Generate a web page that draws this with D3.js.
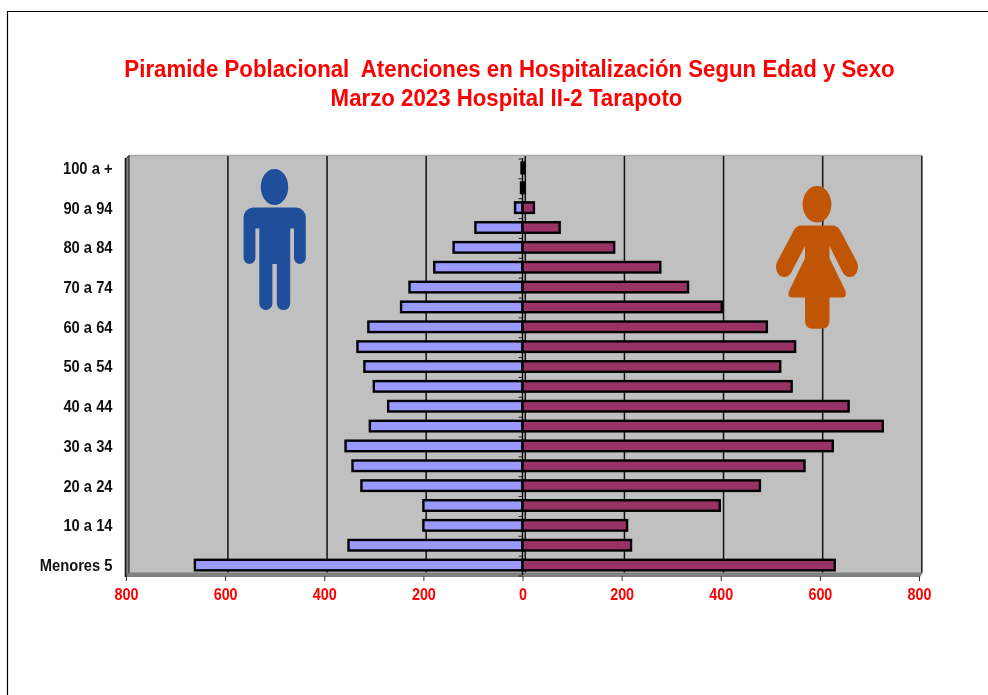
<!DOCTYPE html>
<html><head><meta charset="utf-8">
<script src="https://cdn.jsdelivr.net/npm/d3@7"></script>
<style>html,body{margin:0;padding:0;background:#fff}svg{display:block;filter:blur(0.35px)}</style>
</head><body><svg id="c" width="988" height="695"></svg>
<script>
const categories = ["Menores 5","5 a 9","10 a 14","15 a 19","20 a 24","25 a 29","30 a 34","35 a 39","40 a 44","45 a 49","50 a 54","55 a 59","60 a 64","65 a 69","70 a 74","75 a 79","80 a 84","85 a 89","90 a 94","95 a 99","100 a +"];
const hombres = [661,351,200,200,325,343,357,308,271,300,319,333,311,245,228,178,139,95,15,3,2];
const mujeres = [630,219,211,398,479,569,626,727,658,543,520,550,493,402,334,278,185,75,23,4,3];
const xTicks = [-800,-600,-400,-200,0,200,400,600,800];
const titleLines = ["Piramide Poblacional  Atenciones en Hospitalización Segun Edad y Sexo","Marzo 2023 Hospital II-2 Tarapoto"];

const svg = d3.select("#c");
const font = "'Liberation Sans',Arial,sans-serif";
const x = d3.scaleLinear().domain([-800,800]).range([126,919]);
const y = d3.scaleBand().domain(categories).range([575,158]).paddingInner(0.47).paddingOuter(0.235);
const depth = 2.8;

// slide frame
svg.append("path").attr("d","M7.5,695V11.5H988").attr("fill","none").attr("stroke","#000").attr("stroke-width",1.2);

// title
svg.append("g").selectAll("text").data(titleLines).join("text")
  .attr("transform",(d,i)=>`translate(${i?506.5:509.5},${i?106:76.5}) scale(0.908,1)`)
  .attr("text-anchor","middle").attr("fill","#ff0000")
  .attr("font-family",font).attr("font-weight","bold").attr("font-size",24.5)
  .style("white-space","pre").text(d=>d);

// 3D box: back wall, left wall, floor
svg.append("rect").attr("x",129).attr("y",156).attr("width",793.5).attr("height",417).attr("fill","#c0c0c0");
svg.append("path").attr("d","M129,155.5H922.5").attr("stroke","#a8a8a8").attr("stroke-width",1.5);
svg.append("path").attr("d","M125.5,159L129,155.5V573L125.5,577Z").attr("fill","#808080").attr("stroke","#111").attr("stroke-width",1);
svg.append("path").attr("d","M125.5,577L129,572.5H923L920,577Z").attr("fill","#808080");

// gridlines on back wall
svg.append("g").selectAll("line").data(xTicks.slice(1)).join("line")
  .attr("x1",d=>x(d)+depth).attr("x2",d=>x(d)+depth).attr("y1",156).attr("y2",572.5)
  .attr("stroke",d=>d===800?"#222":"#111").attr("stroke-width",1.5);

// bottom axis
const ax = d3.axisBottom(x).tickValues(xTicks).tickFormat(d=>Math.abs(d)).tickSize(5).tickPadding(8);
const gx = svg.append("g").attr("transform","translate(0,576)").call(ax);
gx.select(".domain").remove();
gx.selectAll("line").attr("stroke","#333").attr("stroke-width",1);
gx.selectAll("text").attr("fill","#ff0000").attr("font-family",font).attr("font-weight","bold").attr("font-size",15.8)
  .attr("transform","scale(0.91,1)");

// icons (decorative pictograms)
const man = svg.append("g").attr("fill","#1f4e9b");
man.append("ellipse").attr("cx",274.5).attr("cy",187).attr("rx",13.7).attr("ry",18);
man.append("path").attr("d","M253,207.5H296A10,10 0 0 1 305.8,218V258A5.9,6 0 0 1 294,258V228.5H290.2V303.4A6.7,6.7 0 0 1 276.8,303.4V264H272.4V303.4A6.55,6.55 0 0 1 259.3,303.4V228.5H255.4V258A5.9,6 0 0 1 243.6,258V218A10,10 0 0 1 253,207.5Z");
const woman = svg.append("g").attr("fill","#c05505");
woman.append("ellipse").attr("cx",817).attr("cy",204.3).attr("rx",14.4).attr("ry",18.2);
woman.append("path").attr("d","M801,225.5H833Q837,225.5 840,230L857,262Q860,270 854,276Q847,279 843,273L829.5,246V258L845.5,291Q847,297.5 842,297.5H829.5V320Q829.5,328.8 821,328.8H813Q805,328.8 805,320V297.5H792Q787,297.5 789,291L805,258V246L791,273Q787,279 780,276Q774,270 777,262L794,230Q797,225.5 801,225.5Z");

// bars
const barG = svg.append("g").attr("stroke","#000").attr("stroke-width",2.4);
barG.selectAll("rect.h").data(categories).join("rect").attr("class","h")
  .attr("x",(d,i)=>x(-hombres[i])).attr("width",(d,i)=>x(0)-x(-hombres[i]))
  .attr("y",d=>y(d)).attr("height",y.bandwidth()).attr("fill","#9999ff");
barG.selectAll("rect.m").data(categories).join("rect").attr("class","m")
  .attr("x",x(0)).attr("width",(d,i)=>x(mujeres[i])-x(0))
  .attr("y",d=>y(d)).attr("height",y.bandwidth()).attr("fill","#993366");

// centre axis with ticks between categories
const step = y.step();
const bound = d3.range(categories.length+1);
const y0 = y.range()[0];
svg.append("g").selectAll("line").data(bound).join("line")
  .attr("x1",x(0)-4).attr("x2",x(0))
  .attr("y1",d=>y0-d*step+1).attr("y2",d=>y0-d*step+1)
  .attr("stroke","#222").attr("stroke-width",1);
svg.append("line").attr("x1",x(0)).attr("x2",x(0)).attr("y1",y.range()[1]).attr("y2",y0)
  .attr("stroke","#000").attr("stroke-width",1.4);

// category labels
const ay = d3.axisLeft(y).tickValues(categories.filter((d,i)=>i%2===0)).tickSize(0).tickPadding(0);
const gy = svg.append("g").attr("transform","translate(112.5,0.8)").call(ay);
gy.select(".domain").remove();
gy.selectAll("text").attr("fill","#111").attr("font-family",font).attr("font-weight","bold").attr("font-size",16)
  .attr("transform","scale(0.92,1)");
svg.append("path").attr("d","M125.5,158V577").attr("stroke","#111").attr("stroke-width",1.6);
</script></body></html>
